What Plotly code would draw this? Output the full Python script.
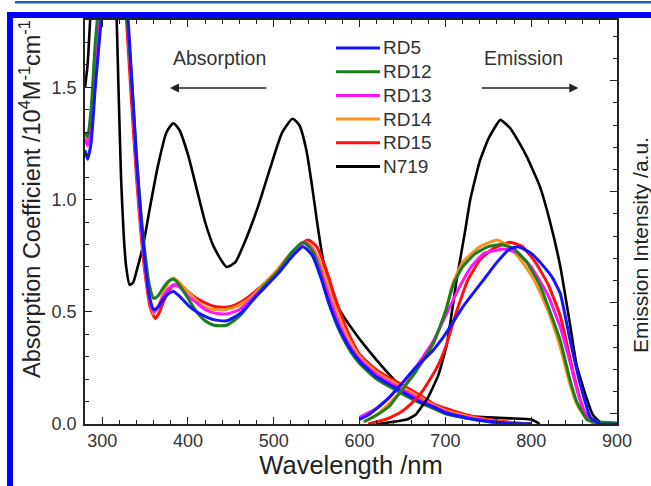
import plotly.graph_objects as go

# ---------------- data ----------------
names = ["RD5", "RD12", "RD13", "RD14", "RD15", "N719"]
colors = ["#1414ff", "#1e7d1e", "#ff14ff", "#f7941d", "#ff1010", "#000000"]

# absorption (wavelength nm, coefficient 10^4 M^-1 cm^-1)
abs_RD5_x = [280, 283, 287, 292, 300, 310, 320, 330, 335, 340, 345, 350, 355, 360, 365, 370, 377, 383, 390, 400, 410, 420, 430, 445, 460, 475, 490, 505, 520, 534, 545, 555, 565, 577, 590, 600, 620, 647, 670, 686, 700, 725, 750, 770, 800]
abs_RD5_y = [1.22, 1.18, 1.25, 1.50, 1.85, 2.30, 2.30, 1.82, 1.50, 1.18, 0.93, 0.72, 0.57, 0.51, 0.52, 0.55, 0.58, 0.59, 0.57, 0.53, 0.50, 0.48, 0.465, 0.46, 0.49, 0.55, 0.61, 0.67, 0.74, 0.79, 0.75, 0.65, 0.53, 0.42, 0.33, 0.28, 0.21, 0.15, 0.10, 0.076, 0.05, 0.027, 0.012, 0.004, 0.0]

abs_RD12_x = [280, 283, 287, 292, 297, 310, 320, 329, 335, 340, 345, 350, 355, 360, 365, 370, 377, 383, 390, 400, 410, 420, 430, 445, 460, 475, 490, 505, 520, 534, 545, 555, 565, 577, 590, 600, 620, 647, 670, 686, 700, 725, 750, 770, 800]
abs_RD12_y = [1.30, 1.28, 1.40, 1.70, 1.90, 2.30, 2.30, 1.82, 1.50, 1.20, 0.95, 0.76, 0.62, 0.56, 0.57, 0.60, 0.635, 0.645, 0.62, 0.56, 0.50, 0.46, 0.44, 0.44, 0.48, 0.55, 0.62, 0.68, 0.76, 0.81, 0.77, 0.66, 0.53, 0.41, 0.32, 0.27, 0.20, 0.14, 0.095, 0.07, 0.045, 0.025, 0.01, 0.003, 0.0]

abs_RD13_x = [280, 283, 287, 292, 298, 310, 320, 329, 335, 340, 345, 350, 355, 360, 365, 370, 377, 383, 390, 400, 410, 420, 430, 445, 460, 475, 490, 505, 520, 536, 546, 556, 566, 578, 590, 600, 620, 647, 670, 686, 700, 725, 750, 770, 800]
abs_RD13_y = [1.27, 1.24, 1.33, 1.60, 1.88, 2.30, 2.30, 1.82, 1.48, 1.15, 0.90, 0.70, 0.56, 0.50, 0.52, 0.56, 0.60, 0.62, 0.61, 0.57, 0.54, 0.51, 0.495, 0.49, 0.51, 0.56, 0.62, 0.68, 0.75, 0.81, 0.77, 0.67, 0.55, 0.43, 0.34, 0.29, 0.22, 0.16, 0.11, 0.08, 0.055, 0.03, 0.014, 0.005, 0.0]

abs_RD14_x = [280, 283, 287, 292, 298, 310, 320, 329, 335, 340, 345, 350, 355, 360, 365, 370, 377, 383, 390, 400, 410, 420, 430, 445, 460, 475, 490, 505, 520, 538, 548, 558, 568, 580, 590, 600, 620, 647, 670, 686, 700, 725, 750, 770, 800]
abs_RD14_y = [1.28, 1.25, 1.35, 1.62, 1.88, 2.30, 2.30, 1.82, 1.48, 1.15, 0.90, 0.70, 0.56, 0.49, 0.52, 0.57, 0.63, 0.65, 0.63, 0.59, 0.55, 0.52, 0.51, 0.51, 0.53, 0.57, 0.63, 0.69, 0.76, 0.81, 0.77, 0.68, 0.56, 0.44, 0.36, 0.30, 0.23, 0.17, 0.12, 0.085, 0.06, 0.035, 0.016, 0.006, 0.0]

abs_RD15_x = [280, 283, 287, 292, 298, 310, 320, 328, 334, 340, 345, 350, 356, 362, 367, 372, 379, 385, 392, 400, 410, 420, 430, 445, 460, 475, 490, 505, 520, 540, 550, 560, 570, 580, 590, 600, 620, 647, 670, 686, 700, 725, 750, 775, 800]
abs_RD15_y = [1.28, 1.26, 1.36, 1.62, 1.88, 2.30, 2.30, 1.82, 1.45, 1.10, 0.86, 0.67, 0.52, 0.47, 0.50, 0.55, 0.60, 0.62, 0.61, 0.59, 0.56, 0.54, 0.525, 0.52, 0.54, 0.58, 0.63, 0.69, 0.76, 0.82, 0.79, 0.70, 0.58, 0.47, 0.38, 0.31, 0.24, 0.18, 0.13, 0.09, 0.07, 0.04, 0.02, 0.008, 0.0]

abs_N719_x = [280, 283, 286, 290, 300, 310, 316, 319, 322, 325, 328, 332, 336, 340, 348, 355, 365, 375, 383, 390, 400, 410, 420, 430, 445, 455, 465, 480, 495, 510, 522, 530, 538, 545, 552, 562, 575, 592, 610, 630, 650, 675, 700, 725, 750, 775, 800, 810]
abs_N719_y = [1.50, 1.60, 1.80, 2.10, 2.40, 2.20, 1.90, 1.50, 1.10, 0.85, 0.70, 0.62, 0.63, 0.68, 0.80, 0.95, 1.15, 1.30, 1.34, 1.31, 1.20, 1.05, 0.90, 0.79, 0.70, 0.72, 0.80, 0.95, 1.13, 1.30, 1.36, 1.33, 1.22, 1.05, 0.86, 0.64, 0.52, 0.42, 0.33, 0.24, 0.16, 0.09, 0.05, 0.035, 0.03, 0.025, 0.02, 0.0]

# emission (wavelength nm, intensity a.u.)
em_RD5_x = [600, 610, 620, 635, 647, 665, 686, 700, 720, 744, 760, 775, 785, 800, 815, 825, 834, 845, 857, 869, 880, 900]
em_RD5_y = [0.02, 0.04, 0.07, 0.12, 0.17, 0.25, 0.33, 0.40, 0.52, 0.64, 0.72, 0.78, 0.79, 0.76, 0.70, 0.65, 0.58, 0.38, 0.18, 0.03, 0.0, 0.0]

em_RD12_x = [605, 620, 635, 647, 665, 686, 700, 709, 720, 735, 750, 765, 780, 795, 810, 822, 834, 845, 853, 865, 875, 900]
em_RD12_y = [0.01, 0.04, 0.08, 0.14, 0.23, 0.36, 0.50, 0.62, 0.70, 0.76, 0.79, 0.80, 0.78, 0.72, 0.62, 0.50, 0.37, 0.20, 0.10, 0.02, 0.01, 0.005]

em_RD13_x = [600, 620, 635, 647, 665, 686, 700, 715, 730, 745, 768, 785, 800, 820, 834, 845, 855, 865, 875]
em_RD13_y = [0.03, 0.07, 0.12, 0.17, 0.25, 0.37, 0.48, 0.60, 0.70, 0.76, 0.78, 0.76, 0.70, 0.57, 0.43, 0.28, 0.13, 0.03, 0.0]

em_RD14_x = [605, 620, 647, 686, 700, 709, 720, 740, 760, 775, 790, 805, 820, 834, 845, 853, 865, 880]
em_RD14_y = [0.01, 0.04, 0.14, 0.36, 0.50, 0.63, 0.72, 0.79, 0.82, 0.79, 0.72, 0.63, 0.50, 0.34, 0.18, 0.09, 0.02, 0.0]

em_RD15_x = [610, 630, 647, 660, 674, 690, 700, 713, 726, 740, 755, 775, 790, 805, 820, 834, 849, 860, 870, 880]
em_RD15_y = [0.0, 0.02, 0.05, 0.09, 0.15, 0.25, 0.34, 0.50, 0.64, 0.73, 0.78, 0.81, 0.79, 0.72, 0.62, 0.48, 0.23, 0.07, 0.01, 0.0]

em_N719_x = [620, 640, 655, 665, 680, 692, 702, 713, 723, 729, 740, 750, 764, 775, 785, 795, 810, 822, 834, 845, 853, 865, 872, 880, 890, 900]
em_N719_y = [0.0, 0.01, 0.02, 0.04, 0.12, 0.22, 0.36, 0.64, 0.86, 1.00, 1.17, 1.27, 1.355, 1.32, 1.26, 1.19, 1.06, 0.90, 0.70, 0.45, 0.26, 0.11, 0.04, 0.01, 0.0, 0.0]

abs_x = [abs_RD5_x, abs_RD12_x, abs_RD13_x, abs_RD14_x, abs_RD15_x, abs_N719_x]
abs_y = [abs_RD5_y, abs_RD12_y, abs_RD13_y, abs_RD14_y, abs_RD15_y, abs_N719_y]
em_x = [em_RD5_x, em_RD12_x, em_RD13_x, em_RD14_x, em_RD15_x, em_N719_x]
em_y = [em_RD5_y, em_RD12_y, em_RD13_y, em_RD14_y, em_RD15_y, em_N719_y]

x_ticks = [300, 400, 500, 600, 700, 800, 900]
y_ticks = [0.0, 0.5, 1.0, 1.5]
y_tick_text = ["0.0", "0.5", "1.0", "1.5"]

# ---------------- figure ----------------
FONT = "Liberation Sans, Arial, sans-serif"
fig = go.Figure()

draw_order = [5, 4, 3, 2, 1, 0]  # N719 first, RD5 on top
for i in draw_order:
    w = 2.6 if names[i] == "N719" else 3
    fig.add_trace(go.Scatter(
        x=abs_x[i], y=abs_y[i], mode="lines", name=names[i],
        line=dict(color=colors[i], width=w, shape="spline", smoothing=0.6),
        legendgroup=names[i], showlegend=False, yaxis="y"))
    fig.add_trace(go.Scatter(
        x=em_x[i], y=em_y[i], mode="lines", name=names[i],
        line=dict(color=colors[i], width=w, shape="spline", smoothing=0.4),
        legendgroup=names[i], showlegend=False, yaxis="y2"))

# page body margin is removed below, so window pixels == figure pixels
W, H = 651, 486
L, T = 85, 20
pw, ph = 532, 404
R = W - L - pw
B = H - T - ph

def px(s):  # window pixel x -> paper x
    return (s - L) / pw

def py(s):  # window pixel y -> paper y
    return (T + ph - s) / ph

axis_common = dict(showline=True, linecolor="#222", linewidth=1.5,
                   ticks="inside", tickcolor="#222", tickwidth=1.3, ticklen=7,
                   showgrid=False, zeroline=False, automargin=False)

fig.update_layout(
    width=W, height=H,
    margin=dict(l=L, r=R, t=T, b=B, autoexpand=False),
    paper_bgcolor="white", plot_bgcolor="white",
    font=dict(family=FONT, color="#333", size=18),
    showlegend=False,
    xaxis=dict(range=[280, 900], tickvals=x_ticks, mirror="ticks",
               minor=dict(dtick=20, tick0=300, ticks="inside", ticklen=4, tickcolor="#222"),
               title=dict(text="Wavelength /nm", font=dict(size=25.5, color="#222"), standoff=4),
               tickfont=dict(size=18), **axis_common),
    yaxis=dict(range=[0, 1.8], tickvals=y_ticks, ticktext=y_tick_text,
               mirror=True, ticklabelstandoff=3,
               minor=dict(dtick=0.1, tick0=0, ticks="inside", ticklen=4, tickcolor="#222"),
               tickfont=dict(size=18), **axis_common),
    yaxis2=dict(range=[0, 1.8], overlaying="y", side="right", showticklabels=False,
                tick0=0.045, dtick=0.495,
                minor=dict(dtick=0.099, tick0=0.045, ticks="inside", ticklen=4, tickcolor="#222"),
                **axis_common),
)

# left axis title (placed as in the reference, slightly above the plot centre)
fig.add_annotation(x=px(30), y=py(199), xref="paper", yref="paper",
                   xanchor="center", yanchor="middle", textangle=-90, showarrow=False,
                   text="Absorption Coefficient /10<sup>4</sup>M<sup>-1</sup>cm<sup>-1</sup>",
                   font=dict(size=23.5, color="#222"))

# legend (drawn as sample lines + labels)
for i, nm in enumerate(names):
    yrow = 48 + 23.7 * i
    fig.add_shape(type="line", xref="paper", yref="paper",
                  x0=px(336), x1=px(380), y0=py(yrow), y1=py(yrow),
                  line=dict(color=colors[i], width=3), layer="above")
    fig.add_annotation(x=px(381), y=py(yrow), xref="paper", yref="paper", text=nm,
                       xanchor="left", yanchor="middle", showarrow=False,
                       font=dict(size=19, color="#333"))

# in-plot labels with arrows
fig.add_annotation(x=437, y=1.63, xref="x", yref="y", text="Absorption", showarrow=False,
                   font=dict(size=19.5, color="#333"))
fig.add_annotation(x=791, y=1.63, xref="x", yref="y", text="Emission", showarrow=False,
                   font=dict(size=19.5, color="#333"))
fig.add_annotation(x=379, y=1.497, xref="x", yref="y", ax=98, ay=0, axref="pixel", ayref="pixel",
                   text="", showarrow=True, arrowhead=2, arrowsize=1.2, arrowwidth=1.5, arrowcolor="#222")
fig.add_annotation(x=855, y=1.497, xref="x", yref="y", ax=-98, ay=0, axref="pixel", ayref="pixel",
                   text="", showarrow=True, arrowhead=2, arrowsize=1.2, arrowwidth=1.5, arrowcolor="#222")

# right axis title (at the page edge, as in the reference)
fig.add_annotation(x=px(640), y=py(245), xref="paper", yref="paper",
                   xanchor="center", yanchor="middle",
                   text="Emission Intensity /a.u.", textangle=-90, showarrow=False,
                   font=dict(size=21, color="#222"))

# page frame decoration
frame_blue = "#0000ff"
fig.add_shape(type="rect", xref="paper", yref="paper", x0=px(7), x1=px(13), y0=py(520), y1=py(12),
              fillcolor=frame_blue, line=dict(width=0), layer="above")
fig.add_shape(type="rect", xref="paper", yref="paper", x0=px(7), x1=px(700), y0=py(18), y1=py(12),
              fillcolor=frame_blue, line=dict(width=0), layer="above")
fig.add_shape(type="rect", xref="paper", yref="paper", x0=px(15), x1=px(700), y0=py(3.5), y1=py(1),
              fillcolor="#1f5fae", line=dict(width=0), layer="above")

fig.write_html("out.html", config={"displayModeBar": False},
               post_script="document.body.style.margin='0';document.body.style.overflow='hidden';")
